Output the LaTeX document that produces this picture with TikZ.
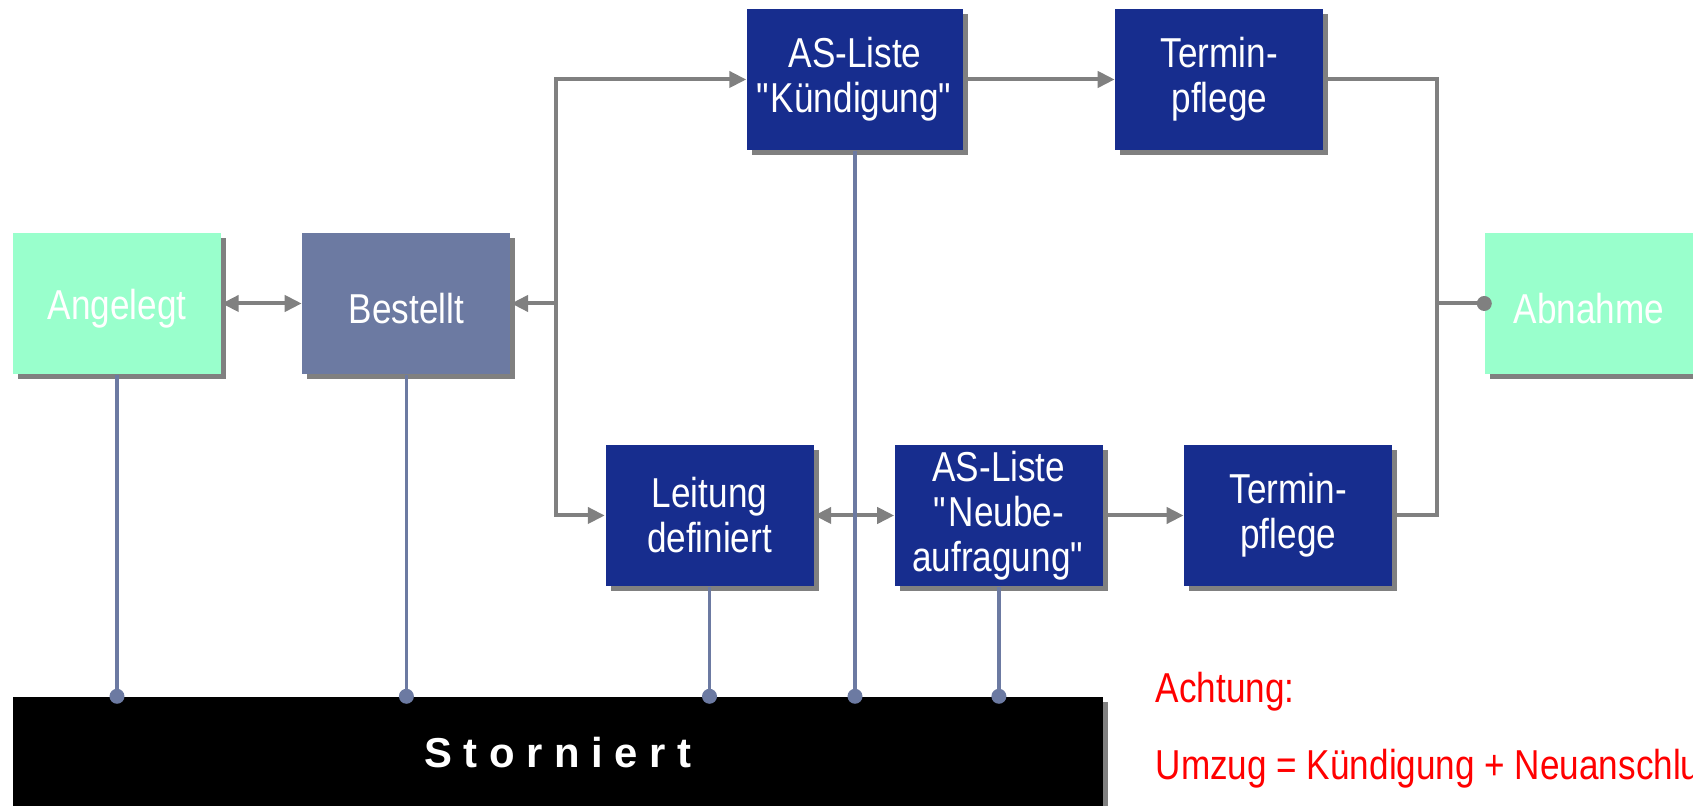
\documentclass[tikz,border=0pt]{standalone}
\usepackage{fontspec}
\setmainfont{Liberation Sans}[FakeStretch=0.84]
\newfontfamily\wideSans{Liberation Sans}
\usepackage{tikz}
\usetikzlibrary{arrows.meta}
\usetikzlibrary{positioning}
\usetikzlibrary{shadows}

\definecolor{mint}{RGB}{153,255,204}
\definecolor{slate}{RGB}{108,122,162}
\definecolor{taskblue}{RGB}{23,45,142}
\definecolor{shade}{RGB}{128,128,128}

\begin{document}
\begin{tikzpicture}[
                block/.style={rectangle, inner sep=0pt, minimum width=2.08cm,
                        minimum height=1.41cm, align=center, text=white,
                        font=\fontsize{11.9}{12.8}\selectfont,
                        general shadow={fill=shade, shadow xshift=0.05cm, shadow yshift=-0.05cm}},
                lowtext/.style={execute at begin node={\rule{0pt}{11.6pt}}},
                stage/.style={block, lowtext, fill=mint},
                ordered/.style={block, lowtext, fill=slate},
                task/.style={block, lowtext, fill=taskblue},
                storno/.style={block, fill=black, minimum width=10.9cm, minimum height=1.12cm,
                        font=\wideSans\bfseries\fontsize{11.9}{12.8}\selectfont},
                arrow/.style={->, >={Triangle[length=0.17cm, width=0.16cm]}, line width=0.04cm, draw=shade},
                link/.style={line width=0.04cm, draw=shade},
                cancel/.style={line width=0.035cm, draw=slate},
                dot/.style={circle, inner sep=0pt, minimum size=0.15cm},
                note/.style={anchor=base west, inner sep=0pt, text=red, font=\fontsize{11.9}{12.8}\selectfont},
            ]

            \path[use as bounding box, clip] (0,0) rectangle (16.93,8.06);

            \node[stage] (angelegt) at (1.17,5.025) {Angelegt};
            \node[ordered, right=0.8cm of angelegt] (bestellt) {Bestellt};
            \node[task, minimum width=2.16cm] (as_kuend) at (8.55,7.265) {AS-Liste\\\textquotedbl K\"undigung\textquotedbl};
            \node[task, right=1.51cm of as_kuend] (termin_top) {Termin-\\pflege};
            \node[task] (leitung) at (7.095,2.905) {Leitung\\definiert};
            \node[task, right=0.8cm of leitung] (as_neu) {AS-Liste\\\textquotedbl Neube-\\aufragung\textquotedbl};
            \node[task, right=0.8cm of as_neu] (termin_bottom) {Termin-\\pflege};
            \node[stage] (abnahme) at (15.89,5.025) {Abnahme};
            \node[storno] (storniert) at (5.58,0.53) {S t o r n i e r t};

            \node[note] (achtung) at (11.55,1.03) {Achtung:};
            \node[note] (umzug) at (11.55,0.26) {Umzug = K\"undigung + Neuanschluss};

            \coordinate (split) at (5.56,5.025);
            \coordinate (merge) at (14.37,5.025);

            \draw[arrow, <->] (angelegt) -- (bestellt);
            \draw[arrow] (split) -- (bestellt);
            \draw[arrow] (split) |- (as_kuend);
            \draw[arrow] (split) |- (leitung);
            \draw[arrow] (as_kuend) -- (termin_top);
            \draw[arrow, <->] (leitung) -- (as_neu);
            \draw[arrow] (as_neu) -- (termin_bottom);
            \draw[link] (termin_top) -| (merge);
            \draw[link] (termin_bottom) -| (merge);
            \draw[link] (merge) -- (abnahme.west) node[dot, fill=shade] {};

            \foreach \n in {angelegt, bestellt, leitung, as_kuend, as_neu}
                \draw[cancel] (\n) -- (\n |- storniert.north) node[dot, fill=slate] {};
        \end{tikzpicture}
\end{document}
